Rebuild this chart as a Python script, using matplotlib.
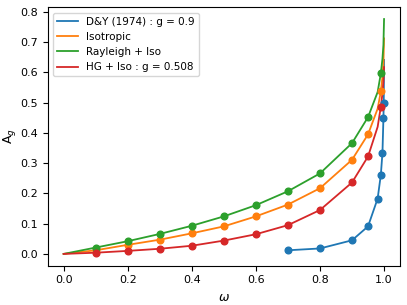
import matplotlib
matplotlib.use("Agg")
from matplotlib import pyplot as plt

# ---- data ----
# D&Y (1974), g = 0.9 : points joined by straight segments
dy_w = [0.7, 0.8, 0.9, 0.95, 0.98, 0.99, 0.995, 0.998, 0.999, 1.0]
dy_a = [0.012, 0.018, 0.045, 0.091, 0.183, 0.262, 0.334, 0.448, 0.497, 0.641]
dy_mark_w = dy_w[:-1]
dy_mark_a = dy_a[:-1]

# smooth curves (sampled)
curve_w = [0.0, 0.1, 0.2, 0.3, 0.4, 0.5, 0.6, 0.7, 0.8, 0.9, 0.95, 0.98, 0.99, 0.995, 0.998, 1.0]
iso_a = [0.0, 0.012, 0.030, 0.047, 0.068, 0.091, 0.124, 0.163, 0.217, 0.311, 0.395, 0.480, 0.537, 0.585, 0.630, 0.712]
ray_a = [0.0, 0.021, 0.042, 0.066, 0.093, 0.124, 0.161, 0.207, 0.266, 0.366, 0.452, 0.535, 0.597, 0.645, 0.690, 0.776]
hg_a = [0.0, 0.004, 0.010, 0.017, 0.027, 0.044, 0.065, 0.095, 0.145, 0.236, 0.322, 0.420, 0.487, 0.530, 0.570, 0.617]

# markers on the smooth curves
mark_w = [0.1, 0.2, 0.3, 0.4, 0.5, 0.6, 0.7, 0.8, 0.9, 0.95, 0.99]
iso_m = [0.012, 0.030, 0.047, 0.068, 0.091, 0.124, 0.163, 0.217, 0.311, 0.395, 0.537]
ray_m = [0.021, 0.042, 0.066, 0.093, 0.124, 0.161, 0.207, 0.266, 0.366, 0.452, 0.597]
hg_m = [0.004, 0.010, 0.017, 0.027, 0.044, 0.065, 0.095, 0.145, 0.236, 0.322, 0.487]

plt.rcParams['font.size'] = 8

fig, ax = plt.subplots(figsize=(4.07, 3.05), dpi=100)
fig.subplots_adjust(left=0.117, right=0.983, top=0.976, bottom=0.129)

lw = 1.3
ms = 4.8
ax.plot(dy_w, dy_a, color='C0', lw=lw, label='D&Y (1974) : g = 0.9')
ax.plot(curve_w, iso_a, color='C1', lw=lw, label='Isotropic')
ax.plot(curve_w, ray_a, color='C2', lw=lw, label='Rayleigh + Iso')
ax.plot(curve_w, hg_a, color='C3', lw=lw, label='HG + Iso : g = 0.508')

ax.plot(dy_mark_w, dy_mark_a, 'o', color='C0', ms=ms)
ax.plot(mark_w, iso_m, 'o', color='C1', ms=ms)
ax.plot(mark_w, ray_m, 'o', color='C2', ms=ms)
ax.plot(mark_w, hg_m, 'o', color='C3', ms=ms)

ax.set_xticks([0.0, 0.2, 0.4, 0.6, 0.8, 1.0])
ax.set_yticks([0.0, 0.1, 0.2, 0.3, 0.4, 0.5, 0.6, 0.7, 0.8])

ax.set_xlabel(r'$\omega$', fontsize=9)
ax.set_ylabel(r'A$_g$', fontsize=9, labelpad=1.5)
ax.legend(loc='upper left', fontsize=7.5)

fig.savefig('out.png')
